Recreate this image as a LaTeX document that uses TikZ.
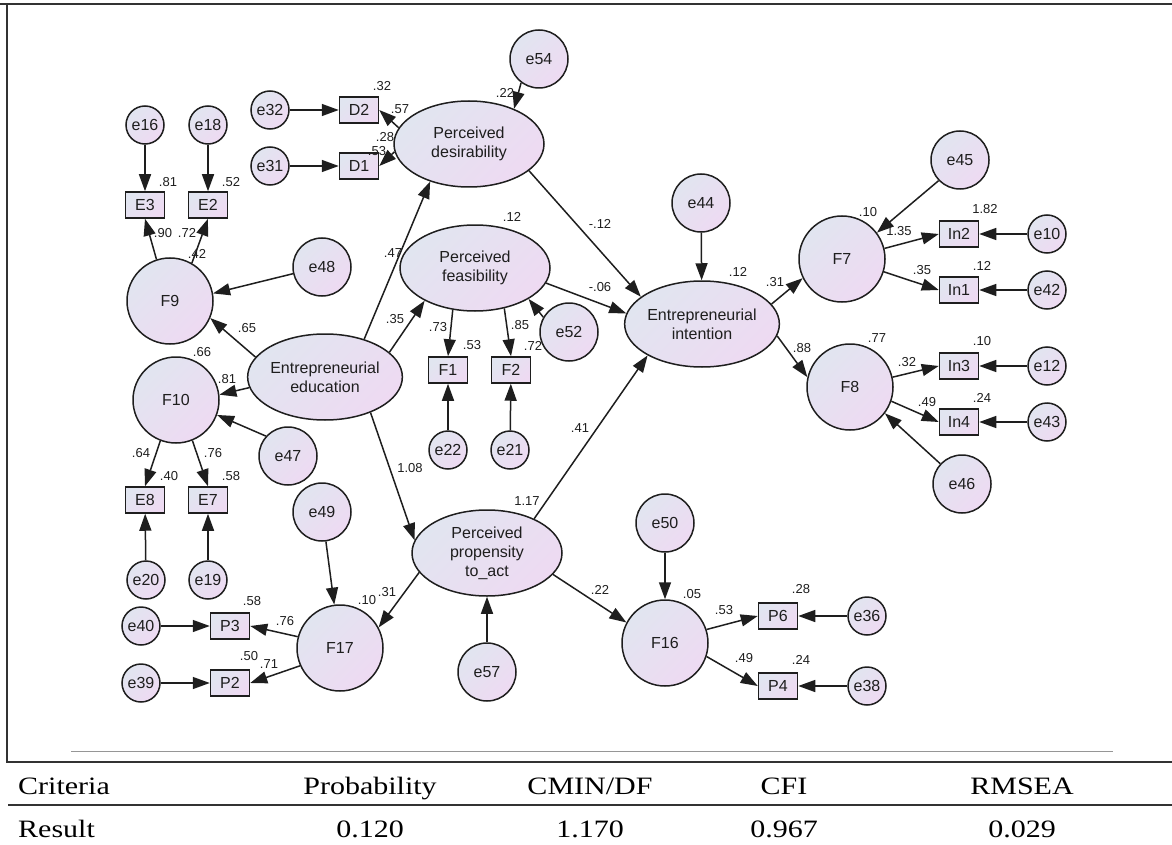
\documentclass[tikz,border=0pt]{standalone}
\usepackage{fontspec}
\setmainfont{Liberation Sans}
\newfontfamily\tablefont[FakeStretch=1.2]{Liberation Serif}
\usepackage{tikz}
\usetikzlibrary{arrows.meta, shapes.geometric, positioning}
\definecolor{AmosBlue}{RGB}{225,229,240}
\definecolor{AmosPink}{RGB}{238,218,242}
\definecolor{AmosInk}{RGB}{30,30,30}
\definecolor{FrameGray}{RGB}{50,50,50}
\definecolor{RuleGray}{RGB}{150,150,150}

\tikzset{
	amos/.style={draw=AmosInk, line width=1.5pt, top color=AmosBlue, bottom color=AmosPink,
		shading angle=45, text=AmosInk, inner sep=0pt, font=\fontsize{16pt}{19pt}\selectfont},
	errsmall/.style={amos, circle, minimum size=38pt},
	errbig/.style={amos, circle, minimum size=58pt},
	factor/.style={amos, circle, minimum size=86pt},
	construct/.style={amos, ellipse, minimum width=150pt, minimum height=86pt, align=center},
	indicator/.style={amos, rectangle, minimum width=39pt, minimum height=26pt},
	regpath/.style={AmosInk, line width=1.5pt, -{Triangle[length=17pt, width=12pt]}},
	coef/.style={text=AmosInk, inner sep=0pt, font=\fontsize{13pt}{15pt}\selectfont},
	tabtext/.style={inner sep=0pt, font=\tablefont\fontsize{25pt}{30pt}\selectfont},
}

\begin{document}
\begin{tikzpicture}[x=1pt, y=-1pt]
	\useasboundingbox (0,0) rectangle (1172,845);
	% frame and table rules
	\draw[FrameGray, line width=2pt] (0,4) -- (1172,4);
	\draw[FrameGray, line width=2pt] (7,4) -- (7,762);
	\draw[FrameGray, line width=2pt] (6,762) -- (1172,762);
	\draw[FrameGray, line width=2pt] (8,805) -- (1172,805);
	\draw[RuleGray, line width=1pt] (71,751) -- (1113,751);

	% constructs
	\node[construct] (edu) at (325,377) {Entrepreneurial\\education};
	\node[construct] (desir) at (469,144) {Perceived\\desirability};
	\node[construct] (feas) at (475,268) {Perceived\\feasibility};
	\node[construct] (intent) at (702,324) {Entrepreneurial\\intention};
	\node[construct] (prop) at (487,553) {Perceived\\propensity\\to\_act};

	% first order factors
	\foreach \n/\x/\y in {F9/170/301, F10/176/400, F17/340/648, F16/665/643, F7/842/259, F8/850/387}
		\node[factor] (\n) at (\x,\y) {\n};

	% observed items
	\foreach \n/\x/\y in {E3/145/205, E2/208/205, D2/359/110, D1/359/166, E8/145/500, E7/208/500,
			P3/230/626, P2/230/683, F1/448/370, F2/511/370, In2/959/234, In1/959/290,
			In3/959/366, In4/959/422, P6/778/616, P4/778/686}
		\node[indicator] (\n) at (\x,\y) {\n};

	% residuals
	\foreach \n/\x/\y in {e16/145/125, e18/208/125, e32/270/110, e31/270/166, e20/146/580, e19/208/580,
			e40/141/626, e39/141/683, e22/448/450, e21/510/450, e10/1047/234, e42/1047/290,
			e12/1047/366, e43/1047/422, e36/867/616, e38/867/686}
		\node[errsmall] (\n) at (\x,\y) {\n};
	\foreach \n/\x/\y in {e48/322/267, e47/288/456, e49/322/512, e54/539/59, e52/569/332,
			e44/701/203, e45/960/160, e46/962/484, e50/665/523, e57/487/672}
		\node[errbig] (\n) at (\x,\y) {\n};

	% paths
	\foreach \a/\b in {e16/E3, e18/E2, e32/D2, e31/D1, e20/E8, e19/E7, e40/P3, e39/P2,
			e22/F1, e21/F2, e10/In2, e42/In1, e12/In3, e43/In4, e36/P6, e38/P4,
			e44/intent, e50/F16, e57/prop, e49/F17}
		\draw[regpath] (\a) -- (\b);
	\foreach \a/\b in {edu.44/desir.224, edu.21/feas.213, edu.322/prop.170, edu.164/F9.337,
			edu.188/F10.7, desir.336/intent.156, feas.348/intent.172, prop.36/intent.210,
			prop.196/F17.28, prop.342/F16.152, intent.16/F7.206, intent.351/F8.167,
			e48.193/F9.10, e47.138/F10.340, e54.233/desir.38, e52.150/feas.330,
			e45.224/F7.37, e46.137/F8.323, F9.108/E3.south, F9.60/E2.south,
			F10.249/E8.north, F10.292/E7.north, desir.167/D2.east, desir.186/D1.east,
			feas.242/F1.north, feas.306/F2.north, F7.14/In2.west, F7.343/In1.west,
			F8.13/In3.west, F8.341/In4.west, F16.18/P6.west, F16.342/P4.west,
			F17.165/P3.east, F17.204/P2.east}
		\draw[regpath] (\a) -- (\b);

	% estimates
	\foreach \x/\y/\v [count=\i] in {382/86/.32, 400/109/.57, 385/137/.28, 377/151/.53,
			168/182/.81, 231/182/.52, 163/233/.90, 187/233/.72, 197/254/.42, 393/253/.47,
			505/93/.22, 600/224/-.12, 512/217/.12, 738/272/.12, 600/287/-.06, 775/282/.31,
			868/212/.10, 899/231/1.35, 985/209/1.82, 922/270/.35, 982/266/.12, 877/338/.77,
			802/348/.88, 907/362/.32, 982/341/.10, 927/402/.49, 982/398/.24, 247/328/.65,
			202/352/.66, 227/379/.81, 141/453/.64, 213/453/.76, 169/476/.40, 231/476/.58,
			387/592/.31, 367/600/.10, 252/601/.58, 285/621/.76, 249/656/.50, 269/664/.71,
			395/319/.35, 438/327/.73, 472/345/.53, 520/325/.85, 533/346/.72, 410/468/1.08,
			580/428/.41, 527/501/1.17, 600/590/.22, 692/594/.05, 724/610/.53, 744/658/.49,
			801/589/.28, 801/660/.24}
		\node[coef] (c\i) at (\x,\y) {\v};

	% fit table
	\node[tabtext, anchor=base west] (crit) at (18,794) {Criteria};
	\node[tabtext, anchor=base west] (res) at (18,837) {Result};
	\foreach \x/\h/\r [count=\i] in {370/Probability/0.120, 590/CMIN\slash DF/1.170,
			784/CFI/0.967, 1022/RMSEA/0.029} {
		\node[tabtext, anchor=base] (h\i) at (\x,794) {\h};
		\node[tabtext, anchor=base] (r\i) at (\x,837) {\r};
	}
\end{tikzpicture}
\end{document}
